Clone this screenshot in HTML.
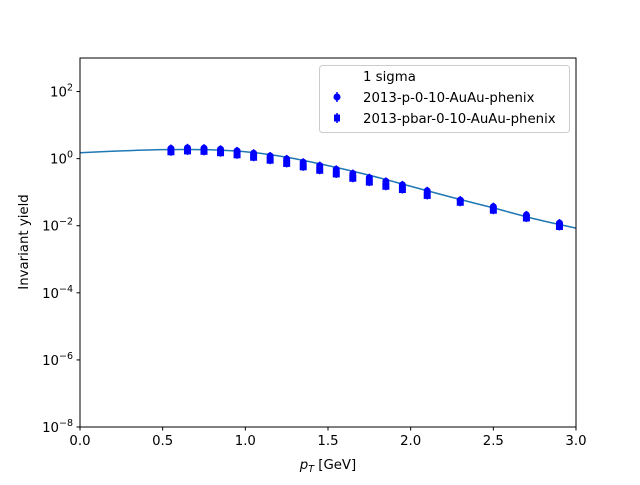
<!DOCTYPE html>
<html><head><meta charset="utf-8"><style>
body{margin:0;background:#fff}
svg text{font-family:"DejaVu Sans","Liberation Sans",sans-serif;fill:#000}
</style></head><body>
<svg id="chart" width="640" height="480">
<rect x="0" y="0" width="640" height="480" fill="#fff"/>
<g id="plot"></g>
<rect x="80" y="58" width="496" height="369" fill="none" stroke="#000" stroke-width="1"/>
<g id="axes"></g>
<text x="328" y="469" text-anchor="middle" font-size="13.3"><tspan font-style="italic">p</tspan><tspan font-style="italic" font-size="9.5" dy="3">T</tspan><tspan dy="-3"> [GeV]</tspan></text>
<text transform="translate(28,242) rotate(-90)" text-anchor="middle" font-size="13.3">Invariant yield</text>
<g>
<rect x="319.5" y="65.5" width="250" height="67" rx="3" fill="#fff" fill-opacity="0.8" stroke="#ccc"/>
<text x="363" y="81" font-size="13.3">1 sigma</text>
<line x1="337" y1="92" x2="337" y2="102" stroke="#0000ff" stroke-width="1.5"/>
<circle cx="337" cy="97" r="3.5" fill="#0000ff"/>
<text x="363" y="102" font-size="13.3">2013-p-0-10-AuAu-phenix</text>
<line x1="337" y1="113" x2="337" y2="123" stroke="#0000ff" stroke-width="1.5"/>
<rect x="334" y="114.5" width="6" height="7" fill="#0000ff"/>
<text x="363" y="123" font-size="13.3">2013-pbar-0-10-AuAu-phenix</text>
</g>
</svg>
<script>
const xs=[0.55,0.65,0.75,0.85,0.95,1.05,1.15,1.25,1.35,1.45,1.55,1.65,1.75,1.85,1.95,2.1,2.3,2.5,2.7,2.9];
const pYield=[2.0,2.1,2.05,1.9,1.7,1.45,1.2,0.98,0.78,0.62,0.48,0.36,0.27,0.21,0.165,0.11,0.058,0.037,0.021,0.012];
const pbarYield=[1.6,1.7,1.65,1.5,1.3,1.1,0.9,0.72,0.57,0.45,0.35,0.26,0.2,0.15,0.12,0.08,0.05,0.029,0.017,0.0095];
const fitX=[0,0.25,0.5,0.75,1.0,1.25,1.5,1.75,2.0,2.25,2.5,2.75,3.0];
const fitY=[1.5,1.7,1.85,1.85,1.6,1.1,0.62,0.32,0.15,0.07,0.034,0.016,0.0085];
const xTicks=[0,0.5,1.0,1.5,2.0,2.5,3.0];
const xTickLabels=["0.0","0.5","1.0","1.5","2.0","2.5","3.0"];
const yTicksExp=[-8,-6,-4,-2,0,2];
const NS="http://www.w3.org/2000/svg";
const X=v=>80+v/3*496;
const Y=v=>427-(Math.log10(v)+8)/11*369;
const plot=document.getElementById('plot'),axes=document.getElementById('axes');
function mk(tag,attrs,parent){const e=document.createElementNS(NS,tag);for(const k in attrs)e.setAttribute(k,attrs[k]);parent.appendChild(e);return e;}
let pts=fitX.map((x,i)=>[X(x),Y(fitY[i])]);
let d=`M${pts[0][0]},${pts[0][1]}`;
for(let i=0;i<pts.length-1;i++){const p0=pts[Math.max(0,i-1)],p1=pts[i],p2=pts[i+1],p3=pts[Math.min(pts.length-1,i+2)];
d+=` C${p1[0]+(p2[0]-p0[0])/6},${p1[1]+(p2[1]-p0[1])/6} ${p2[0]-(p3[0]-p1[0])/6},${p2[1]-(p3[1]-p1[1])/6} ${p2[0]},${p2[1]}`;}
const fit=mk('path',{d:d,fill:'none',stroke:'#1f77b4','stroke-width':1.5},plot);


xs.forEach((x,i)=>{
 const cx=X(x);
 const yb=Y(pbarYield[i]);
 const eb=mk('line',{x1:cx,x2:cx,y1:yb-4,y2:yb+4,stroke:'#0000ff','stroke-width':1.5},plot);
 
 
 const s=mk('rect',{x:cx-3.5,y:yb-3.5,width:7,height:7,fill:'#0000ff'},plot);
 
 
 const yp=Y(pYield[i]);
 const ep=mk('line',{x1:cx,x2:cx,y1:yp-4,y2:yp+4,stroke:'#0000ff','stroke-width':1.5},plot);
 
 
 const c=mk('circle',{cx:cx,cy:yp,r:3.5,fill:'#0000ff'},plot);
 
 
});
xTicks.forEach((t,i)=>{
 const x=X(t);
 mk('line',{x1:x,x2:x,y1:427,y2:430.5,stroke:'#000'},axes);
 const tx=mk('text',{x:x,y:445,'text-anchor':'middle','font-size':13.3},axes);
 tx.textContent=xTickLabels[i];
 
 
});
yTicksExp.forEach(e=>{
 const y=Y(Math.pow(10,e));
 mk('line',{x1:80,x2:76.5,y1:y,y2:y,stroke:'#000'},axes);
 const tx=mk('text',{x:73,y:y+5,'text-anchor':'end','font-size':13.3},axes);
 tx.innerHTML='10<tspan font-size="9.5" dy="-6">'+(e<0?'\u2212'+(-e):e)+'</tspan>';
 
 
});
</script>
</body></html>
